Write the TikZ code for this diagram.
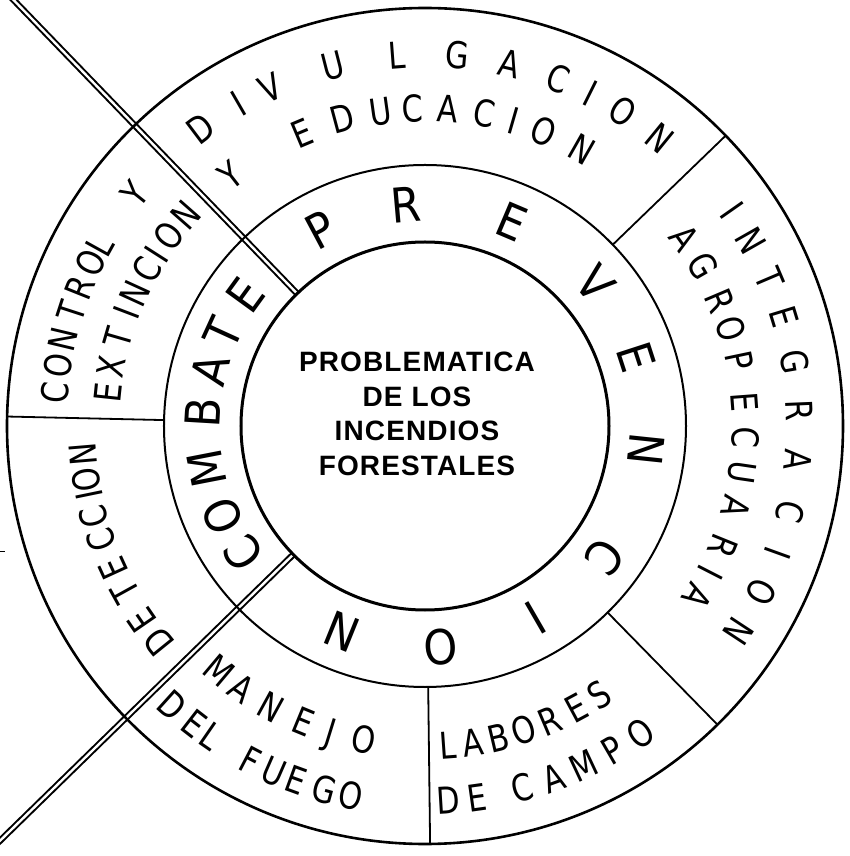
\documentclass[tikz,border=0pt]{standalone}
\usepackage{fontspec}
\newfontfamily\ringfont[FakeStretch=0.82]{DejaVu Sans}
\newfontfamily\bigfont[FakeStretch=0.9]{DejaVu Sans}
\newfontfamily\cfont[LetterSpace=4]{Liberation Sans}
\tikzset{
  outerc/.style={line width=2.6pt},
  midc/.style={line width=2pt},
  innc/.style={line width=3pt},
  sepline/.style={line width=1.8pt},
  dbl/.style={line width=2pt, double=white, double distance=2.4pt},
  ringltr/.style={inner sep=0pt, text height=27pt, text depth=0pt, font=\ringfont\fontsize{37}{37}\selectfont},
  bigltr/.style={inner sep=0pt, text height=35pt, text depth=0pt, font=\bigfont\fontsize{48}{48}\selectfont},
  ctext/.style={align=center, inner sep=0pt, font=\cfont\bfseries\fontsize{28}{34.7}\selectfont},
}
\newcommand\cwword[4]{%
  \foreach \aa/\lt [count=\ii] in {#4} {\node[#2, rotate=\aa-90] (#1\ii) at (\aa:#3pt) {\lt};}}
\newcommand\ccwword[4]{%
  \foreach \aa/\lt [count=\ii] in {#4} {\node[#2, rotate=\aa+90] (#1\ii) at (\aa:#3pt) {\lt};}}
\begin{document}
\begin{tikzpicture}
\useasboundingbox (-425pt,-430pt) rectangle (424pt,426pt);
\clip (-425pt,-430pt) rectangle (424pt,426pt);
\fill[white] (-425pt,-430pt) rectangle (424pt,426pt);

% diagonal double lines
\coordinate (d1a) at (134:184pt);
\coordinate (d1b) at (134:620pt);
\coordinate (d2a) at (224.3:184pt);
\coordinate (d2b) at (224.3:620pt);
\draw[dbl] (d1a) -- (d1b);
\draw[dbl] (d2a) -- (d2b);

% separators of the outer ring
\coordinate (s1a) at (44:261pt);    \coordinate (s1b) at (44:418pt);
\coordinate (s2a) at (-45.6:261pt); \coordinate (s2b) at (-45.6:418pt);
\coordinate (s3a) at (270.7:261pt); \coordinate (s3b) at (270.7:418pt);
\coordinate (s4a) at (178.7:261pt); \coordinate (s4b) at (178.7:418pt);
\draw[sepline] (s1a) -- (s1b);
\draw[sepline] (s2a) -- (s2b);
\draw[sepline] (s3a) -- (s3b);
\draw[sepline] (s4a) -- (s4b);

% circles
\coordinate (c) at (0,0);
\draw[outerc] (c) circle[radius=418pt];
\draw[midc] (c) circle[radius=261pt];
\draw[innc] (c) circle[radius=184pt];

% small tick at the left edge
\coordinate (t1) at (-425pt,-125pt);
\coordinate (t2) at (-420pt,-125pt);
\draw[line width=1pt] (t1) -- (t2);

% centre text
\node[ctext] (title) at (-8pt,12pt) {PROBLEMATICA\\DE LOS\\INCENDIOS\\FORESTALES};

% inner ring
\cwword{pv}{bigltr}{222}{118/P, 95/R, 67/E, 40/V, 18/E, -6/N, -36/C, -60/I, -86/O, -112/N}
\cwword{cb}{bigltr}{222}{215/C, 204/O, 191/M, 176.6/B, 165.4/A, 155.4/T, 144/E}

% outer ring
\cwword{dv}{ringltr}{372}{127/D, 120/I, 114.5/V, 104.3/U, 94.3/L, 85/G, 76.9/A, 69/C, 63.5/I, 57.8/O, 50.8/N}
\cwword{ye}{ringltr}{318}{127.8/Y, 112.8/E, 105/D, 98/U, 92.2/C, 85.8/A, 79.3/C, 73.9/I, 68/O, 60.4/N}
\cwword{in}{ringltr}{375}{35/I, 29.6/N, 23.1/T, 16.9/E, 9.8/G, 2.4/R, -5.2/A, -13.3/C, -19.8/I, -26.3/O, -33.3/N}
\cwword{ag}{ringltr}{321}{35.9/A, 29.9/G, 23/R, 17.7/O, 11.8/P, 4.3/E, -2/C, -8.4/U, -14.6/A, -22/R, -27.1/I, -32/A}
\cwword{co}{ringltr}{372}{174.8/C, 170.6/O, 166.6/N, 162/T, 158.2/R, 154/O, 151/L, 141.4/Y}
\cwword{ex}{ringltr}{319}{174/E, 169.3/X, 163.9/T, 159.2/I, 155.4/N, 150.7/C, 147.4/I, 143.4/O, 138.7/N}
\cwword{de}{ringltr}{343}{219/D, 214.5/E, 208.9/T, 204.6/E, 199.5/C, 195.3/C, 191.6/I, 189.1/O, 184.8/N}
\ccwword{ma}{ringltr}{320}{229.9/M, 235/A, 241.3/N, 247.6/E, 252.8/J, 258.9/O}
\ccwword{df}{ringltr}{377}{227.9/D, 232.2/E, 235.4/L, 242.4/F, 246.4/U, 250/E, 254.6/G, 258.7/O}
\ccwword{la}{ringltr}{320}{274.1/L, 278.6/A, 283.2/B, 288/O, 293/R, 298.3/E, 302.9/S}
\ccwword{dc}{ringltr}{375}{273.5/D, 278/E, 285.1/C, 290/A, 295.1/M, 300.1/P, 305/O}
\end{tikzpicture}
\end{document}
